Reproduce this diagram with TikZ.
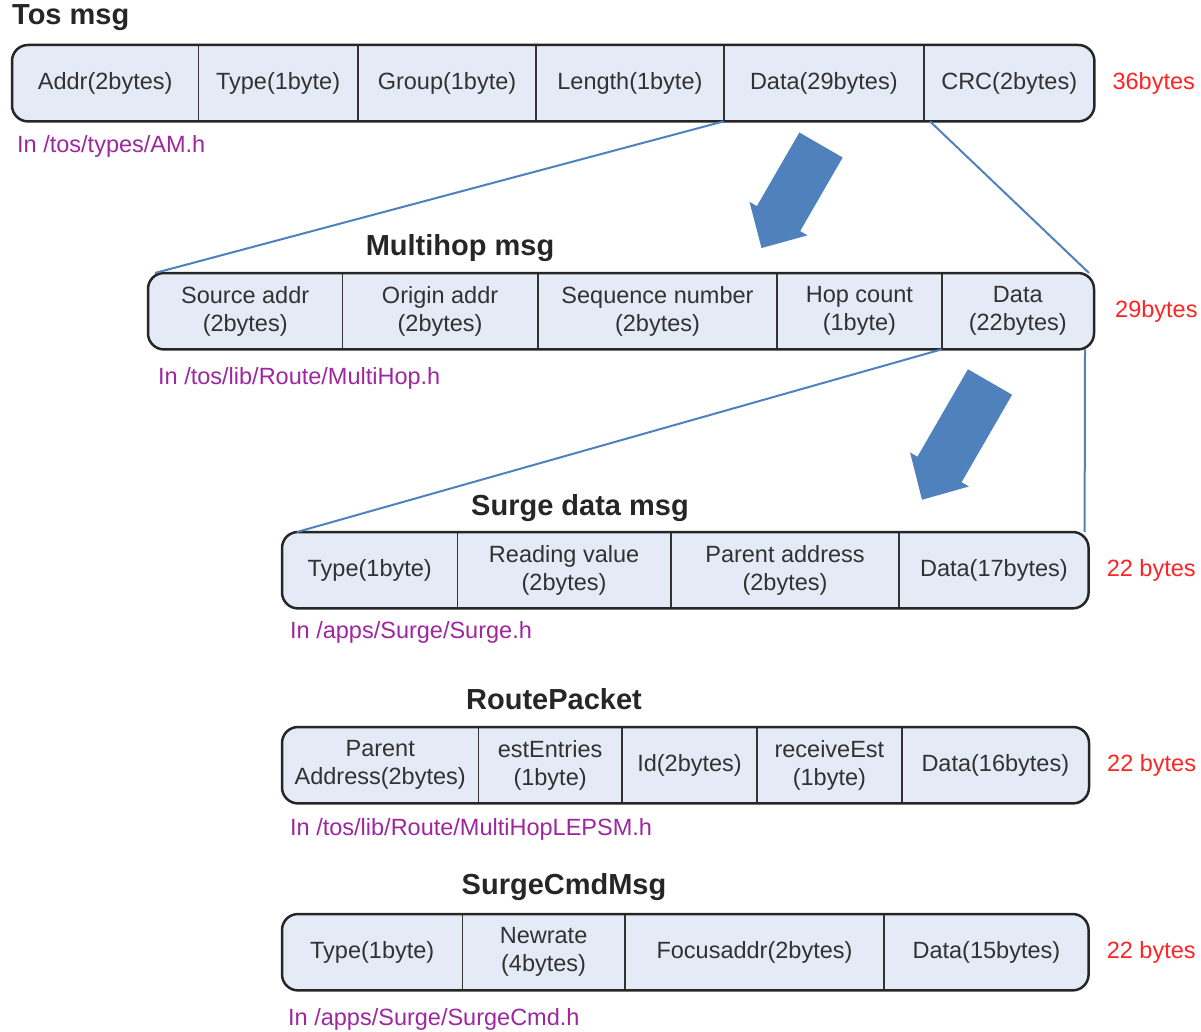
\documentclass[tikz,border=0pt]{standalone}
\usepackage{fontspec}
\setmainfont{Liberation Sans}
\usetikzlibrary{positioning}
\usetikzlibrary{backgrounds}
\definecolor{cellfill}{RGB}{228,234,246}
\definecolor{linkblue}{RGB}{79,129,189}
\definecolor{sizered}{RGB}{255,35,35}
\definecolor{pathpurple}{RGB}{158,38,158}
\definecolor{celltext}{RGB}{50,50,50}

\begin{document}
\begin{tikzpicture}[x=1pt,y=-1pt]
\tikzstyle{cell}=[minimum height=76pt, inner sep=0pt, align=center, text=celltext, font=\fontsize{23.5}{28}\selectfont]
\tikzstyle{frame}=[draw=black!85, line width=2.5pt, rounded corners=16pt]
\tikzstyle{panel}=[fill=cellfill, rounded corners=16pt]
\tikzstyle{divider}=[draw=black!80, line width=1.8pt]
\tikzstyle{title}=[font=\fontsize{29}{34}\selectfont\bfseries, text=black!85, inner sep=0pt]
\tikzstyle{size}=[font=\fontsize{23.5}{28}\selectfont, text=sizered, inner sep=0pt]
\tikzstyle{file}=[font=\fontsize{23.5}{28}\selectfont, text=pathpurple, inner sep=0pt, anchor=west]
\tikzstyle{link}=[draw=linkblue, line width=2pt]
\tikzstyle{bigarrow}=[fill=linkblue]
\useasboundingbox (0,0) rectangle (1201,1032);

% Tos msg
\node[title, anchor=west] (Ttitle) at (12,18) {Tos msg};
\node[cell, minimum width=186pt, anchor=north west] (T1) at (12,45) {Addr(2bytes)};
\node[cell, minimum width=159pt, right=0pt of T1] (T2) {Type(1byte)};
\node[cell, minimum width=178pt, right=0pt of T2] (T3) {Group(1byte)};
\node[cell, minimum width=187pt, right=0pt of T3] (T4) {Length(1byte)};
\node[cell, minimum width=200pt, right=0pt of T4] (T5) {Data(29bytes)};
\node[cell, minimum width=170pt, right=0pt of T5] (T6) {CRC(2bytes)};
\begin{scope}[on background layer]
\fill[panel] (T1.north west) rectangle (T6.south east);
\end{scope}
\foreach \c in {T1,T2,T3,T4,T5}
  \draw[divider] (\c.north east) -- (\c.south east);
\draw[frame] (T1.north west) rectangle (T6.south east);
\node[size, anchor=west, right=18pt of T6] (Tsize) {36bytes};
\node[file] (Tfile) at (17,146) {In /tos/types/AM.h};

% Multihop msg
\node[title] (Mtitle) at (460,248) {Multihop msg};
\node[cell, minimum width=194pt, anchor=north west] (M1) at (148,273) {Source addr\\(2bytes)};
\node[cell, minimum width=195pt, right=0pt of M1] (M2) {Origin addr\\(2bytes)};
\node[cell, minimum width=239pt, right=0pt of M2] (M3) {Sequence number\\(2bytes)};
\node[cell, minimum width=164pt, right=0pt of M3] (M4) {Hop count\\(1byte)};
\node[cell, minimum width=152pt, right=0pt of M4] (M5) {Data\\(22bytes)};
\begin{scope}[on background layer]
\fill[panel] (M1.north west) rectangle (M5.south east);
\end{scope}
\foreach \c in {M1,M2,M3,M4}
  \draw[divider] (\c.north east) -- (\c.south east);
\draw[frame] (M1.north west) rectangle (M5.south east);
\node[size, anchor=west, right=21pt of M5] (Msize) {29bytes};
\node[file] (Mfile) at (158,378) {In /tos/lib/Route/MultiHop.h};

% Surge data msg
\node[title] (Stitle) at (580,508) {Surge data msg};
\node[cell, minimum width=175pt, anchor=north west] (S1) at (282,532) {Type(1byte)};
\node[cell, minimum width=213pt, right=0pt of S1] (S2) {Reading value\\(2bytes)};
\node[cell, minimum width=228pt, right=0pt of S2] (S3) {Parent address\\(2bytes)};
\node[cell, minimum width=189pt, right=0pt of S3] (S4) {Data(17bytes)};
\begin{scope}[on background layer]
\fill[panel] (S1.north west) rectangle (S4.south east);
\end{scope}
\foreach \c in {S1,S2,S3}
  \draw[divider] (\c.north east) -- (\c.south east);
\draw[frame] (S1.north west) rectangle (S4.south east);
\node[size, anchor=west, right=18pt of S4] (Ssize) {22 bytes};
\node[file] (Sfile) at (290,632) {In /apps/Surge/Surge.h};

% RoutePacket
\node[title] (Rtitle) at (554,699) {RoutePacket};
\node[cell, minimum width=196pt, anchor=north west] (R1) at (282,727) {Parent\\Address(2bytes)};
\node[cell, minimum width=143pt, right=0pt of R1] (R2) {estEntries\\(1byte)};
\node[cell, minimum width=135pt, right=0pt of R2] (R3) {Id(2bytes)};
\node[cell, minimum width=144pt, right=0pt of R3] (R4) {receiveEst\\(1byte)};
\node[cell, minimum width=187pt, right=0pt of R4] (R5) {Data(16bytes)};
\begin{scope}[on background layer]
\fill[panel] (R1.north west) rectangle (R5.south east);
\end{scope}
\foreach \c in {R1,R2,R3,R4}
  \draw[divider] (\c.north east) -- (\c.south east);
\draw[frame] (R1.north west) rectangle (R5.south east);
\node[size, anchor=west, right=18pt of R5] (Rsize) {22 bytes};
\node[file] (Rfile) at (290,829) {In /tos/lib/Route/MultiHopLEPSM.h};

% SurgeCmdMsg
\node[title] (Ctitle) at (564,887) {SurgeCmdMsg};
\node[cell, minimum width=180pt, anchor=north west] (C1) at (282,914) {Type(1byte)};
\node[cell, minimum width=162pt, right=0pt of C1] (C2) {Newrate\\(4bytes)};
\node[cell, minimum width=259pt, right=0pt of C2] (C3) {Focusaddr(2bytes)};
\node[cell, minimum width=204pt, right=0pt of C3] (C4) {Data(15bytes)};
\begin{scope}[on background layer]
\fill[panel] (C1.north west) rectangle (C4.south east);
\end{scope}
\foreach \c in {C1,C2,C3}
  \draw[divider] (\c.north east) -- (\c.south east);
\draw[frame] (C1.north west) rectangle (C4.south east);
\node[size, anchor=west, right=18pt of C4] (Csize) {22 bytes};
\node[file] (Cfile) at (288,1019) {In /apps/Surge/SurgeCmd.h};

% blue fan-out lines
\draw[link] (T5.south west) -- ([xshift=7pt]M1.north west);
\draw[link] ([xshift=6pt]T6.south west) -- ([xshift=-5pt]M5.north east);
\draw[link] (M5.south west) -- ([xshift=15pt]S1.north west);
\draw[link] ([xshift=-9pt]M5.south east) -- ([xshift=-4pt]S4.north east);

% big arrows
\coordinate (A1) at (821,145);
\coordinate (A2) at (990,382);
\fill[bigarrow, shift={(A1)}, rotate=240] (0,25) -- (85,25) -- (85,33.5) -- (119,0) -- (85,-33.5) -- (85,-25) -- (0,-25) -- cycle;
\fill[bigarrow, shift={(A2)}, rotate=240] (0,25.5) -- (101,25.5) -- (101,34) -- (136,0) -- (101,-34) -- (101,-25.5) -- (0,-25.5) -- cycle;
\end{tikzpicture}
\end{document}
